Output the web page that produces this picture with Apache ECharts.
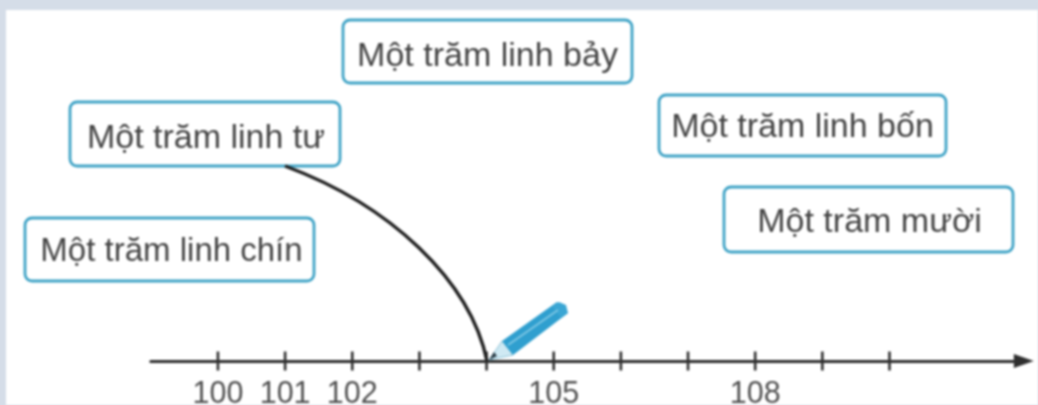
<!DOCTYPE html>
<html><head><meta charset="utf-8">
<style>html,body{margin:0;padding:0;background:#d5dde8}#c{width:1038px;height:405px;filter:blur(0.8px)}</style>
<script src="https://cdn.jsdelivr.net/npm/echarts@6/dist/echarts.min.js"></script>
</head><body><div id="c"></div>
<script>
const tickValues = [100,101,102,103,104,105,106,107,108,109,110];
const labelledValues = [100,101,102,105,108];
const phrases = ['Một trăm linh chín','Một trăm linh tư','Một trăm linh bảy','Một trăm linh bốn','Một trăm mười'];
const boxes = [[25,218,289,63],[70,102,270,64],[343,20,289,63],[659,95,287,61],[724,187,289,65]];
const textShift = [[2,2],[1,5],[0,5],[0,2],[1,3]];
const phraseSizes = [33,34,34,34,34];
const ink = '#2e2e2e', txt = '#444', blue = '#3fa3c6';
const chart = echarts.init(document.getElementById('c'), null, {renderer:'canvas'});
const boxEls = [];
phrases.forEach((p,i)=>{
  const b = boxes[i], s = textShift[i];
  boxEls.push({type:'rect',z:5,shape:{x:b[0],y:b[1],width:b[2],height:b[3],r:7},style:{fill:'#fff',stroke:blue,lineWidth:2.8}});
  boxEls.push({type:'text',z:6,x:b[0]+b[2]/2+s[0],y:b[1]+b[3]/2+s[1],style:{text:p,fill:txt,font:phraseSizes[i]+'px "Liberation Sans"',align:'center',verticalAlign:'middle'}});
});
chart.setOption({
  animation:false,
  backgroundColor:'#d5dde8',
  grid:{left:150.8,top:100,width:873,height:261,outerBoundsMode:'none'},
  xAxis:{type:'value',min:99,max:112,interval:1,splitLine:{show:false},
    axisLine:{onZero:false,lineStyle:{color:ink,width:3},symbol:['none','triangle'],symbolSize:[14,20],symbolOffset:[0,0]},
    axisTick:{show:false},
    axisLabel:{customValues:labelledValues,margin:18,color:'#505050',fontSize:30.5,fontFamily:'Liberation Sans',hideOverlap:false}},
  yAxis:{type:'value',min:0,max:1,show:false},
  series:[{type:'scatter',clip:false,symbol:'rect',symbolSize:[2.6,19],silent:true,itemStyle:{color:ink,opacity:1},
    data:tickValues.map(v=>[v,0])}],
  graphic:[
    {type:'rect',z:-10,shape:{x:6,y:10,width:1032,height:395},style:{fill:'#fff'}},
    ...boxEls,
    {type:'bezierCurve',z:7,shape:{x1:285,y1:166,cpx1:390,cpy1:205,cpx2:470,cpy2:280,x2:487,y2:361},style:{stroke:'#1f1f1f',lineWidth:3.4,fill:null}},
    {type:'polygon',z:7,shape:{points:[[489,360],[502,341],[513,355]]},style:{fill:'#cfe9f3',stroke:'#8fc4d8',lineWidth:1}},
    {type:'polygon',z:8,shape:{points:[[489,360],[494,352],[497,356]]},style:{fill:'#2a3a44'}},
    {type:'polygon',z:8,shape:{points:[[502,341],[557,302],[568,313],[513,355]]},style:{fill:'#2f9fcf'}},
    {type:'polygon',z:9,shape:{points:[[552,306],[559,302],[566,305],[568,313],[561,318]]},style:{fill:'#3aa6d4'}},
    {type:'line',z:9,shape:{x1:508,y1:345,x2:558,y2:310},style:{stroke:'#7cc6e4',lineWidth:2}}
  ]
});
</script></body></html>
